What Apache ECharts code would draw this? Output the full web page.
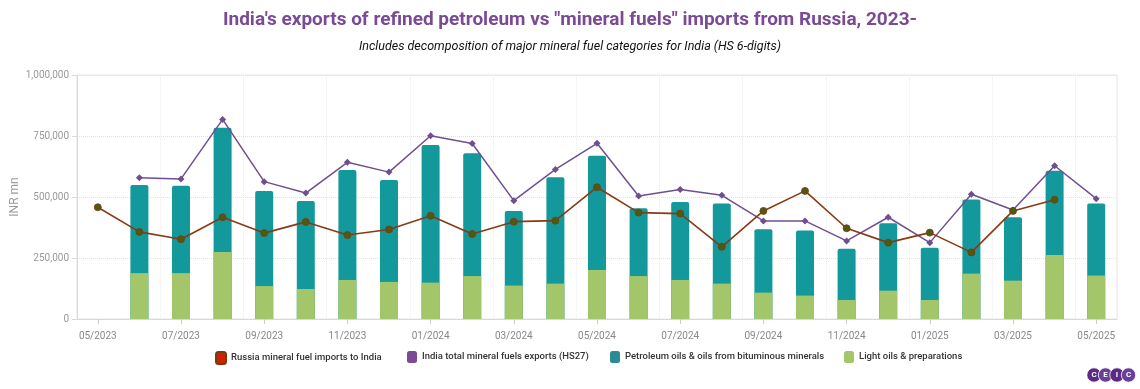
<!DOCTYPE html>
<html>
<head>
<meta charset="utf-8">
<script src="https://cdn.jsdelivr.net/npm/echarts@6/dist/echarts.min.js"></script>
<style>
html,body{margin:0;padding:0;background:#fff;}
#chart{width:1140px;height:389px;}
</style>
</head>
<body>
<div id="chart"></div>
<script>
const months = ["05/2023","06/2023","07/2023","08/2023","09/2023","10/2023","11/2023","12/2023",
  "01/2024","02/2024","03/2024","04/2024","05/2024","06/2024","07/2024","08/2024","09/2024","10/2024","11/2024","12/2024",
  "01/2025","02/2025","03/2025","04/2025","05/2025"];

const russiaImports = [458000,357000,327000,417000,352000,398000,344000,367000,423000,348000,399000,403000,540000,
  436000,432000,296000,443000,525000,372000,313000,354000,273000,443000,489000,null];

const indiaTotalExports = [null,579000,574000,818000,563000,516000,642000,602000,751000,719000,485000,613000,720000,
  504000,531000,507000,402000,402000,320000,417000,313000,511000,447000,628000,493000];

const petroleumOils = [null,549000,546000,784000,525000,484000,611000,570000,713000,679000,443000,581000,669000,
  454000,480000,473000,368000,363000,288000,392000,292000,490000,417000,608000,473000];

const lightOils = [null,188000,188000,275000,135000,123000,160000,152000,149000,176000,137000,145000,201000,
  176000,160000,145000,108000,96000,78000,116000,78000,186000,157000,262000,178000];

const yTicks = [0,250000,500000,750000,1000000];

const names = {
  russia: "Russia mineral fuel imports to India",
  india: "India total mineral fuels exports (HS27)",
  petro: "Petroleum oils & oils from bituminous minerals",
  light: "Light oils & preparations"
};

const chart = echarts.init(document.getElementById('chart'), null, {renderer:'canvas'});

const legendText = {fontSize: 9.5, color: '#333', fontWeight: 500, fontFamily: 'Roboto'};
function leg(name, left, color){
  return {data:[{name:name, itemStyle:{color:color}}], left:left, top:346, itemWidth:10, itemHeight:12, icon:'roundRect',
    textStyle: legendText, itemGap:4, selectedMode:true};
}

function logo(){
  const letters = ['C','E','I','C'];
  const out = [];
  letters.forEach((l,i)=>{
    out.push({type:'circle', shape:{cx:1094+i*11.5, cy:375, r:7.2},
      style:{fill: i%2? '#6a3f98':'#5b2a86', stroke:'#fff', lineWidth:0.8}, z:10});
    out.push({type:'text', x:1094+i*11.5, y:375,
      style:{text:l, fill:'#fff', font:'bold 8px Roboto', align:'center', verticalAlign:'middle'}, z:11});
  });
  return out;
}

const option = {
  backgroundColor:'#fff',
  animation:false,
  title:[
    {text:"India's exports of refined petroleum vs \"mineral fuels\" imports from Russia, 2023-",
     left:'center', top:6,
     textStyle:{fontSize:19, fontWeight:'bold', color:'#7a4a94', fontFamily:'Roboto'}},
    {text:"Includes decomposition of major mineral fuel categories for India (HS 6-digits)",
     left:565, top:35, textAlign:'center',
     textStyle:{fontSize:12.5, fontStyle:'italic', fontWeight:'normal', color:'#111', fontFamily:'Roboto'}}
  ],
  legend:[leg(names.russia,210,'#cc2200'), leg(names.india,402,'#7a4a94'),
          leg(names.petro,605,'#2a8a95'), leg(names.light,839,'#a3c66a')],
  grid:{left:77, right:23, top:75, bottom:70, containLabel:false, outerBoundsMode:'none',
        show:true, borderColor:'#e6e6e6', borderWidth:1},
  xAxis:{
    type:'category', data:months, boundaryGap:true,
    axisLine:{show:true, lineStyle:{color:'#d8d8d8'}},
    axisTick:{show:true, interval:1, alignWithLabel:true, length:5, lineStyle:{color:'#ccc'}},
    axisLabel:{interval:1, color:'#888', fontSize:10, fontFamily:'Roboto', margin:12},
    splitLine:{show:true, interval:1, lineStyle:{color:'#ececec', type:'dotted'}}
  },
  yAxis:{
    type:'value', min:0, max:1000000, interval:250000,
    name:'INR mn', nameLocation:'middle', nameGap:56, nameRotate:90, nameMoveOverlap:false,
    nameTextStyle:{color:'#999', fontSize:12, fontFamily:'Roboto'},
    axisLine:{show:true, lineStyle:{color:'#d8d8d8'}},
    axisTick:{show:true, length:5, lineStyle:{color:'#d8d8d8'}},
    axisLabel:{color:'#999', fontSize:10, fontFamily:'Roboto',
      formatter:v=>yTicks.includes(v)? v.toLocaleString('en-US'):''},
    splitLine:{show:true, lineStyle:{color:'#e2e2e2', type:'dotted'}}
  },
  graphic: logo(),
  series:[
    {name:names.petro, type:'bar', data:petroleumOils, barWidth:18, z:2,
     itemStyle:{color:'#13989b', borderRadius:[2,2,0,0]}},
    {name:names.light, type:'bar', data:lightOils, barWidth:18, barGap:'-100%', z:3,
     itemStyle:{color:'#a3c66a'}},
    {name:names.india, type:'line', data:indiaTotalExports, z:5, connectNulls:false,
     symbol:'diamond', symbolSize:7,
     lineStyle:{color:'#6f4f8e', width:1.5}, itemStyle:{color:'#6f4f8e'}},
    {name:names.russia, type:'line', data:russiaImports, z:6,
     symbol:'circle', symbolSize:7,
     lineStyle:{color:'#8a3a12', width:1.6}, itemStyle:{color:'#4e5a10', borderColor:'#7a3a10', borderWidth:0.8}}
  ]
};
chart.setOption(option);
</script>
</body>
</html>
